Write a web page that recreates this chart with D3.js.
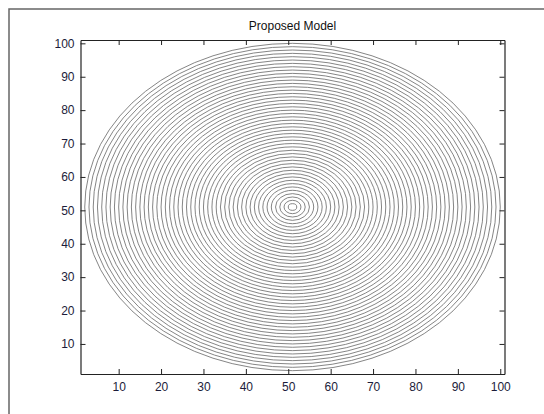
<!DOCTYPE html>
<html>
<head>
<meta charset="utf-8">
<script src="https://d3js.org/d3.v7.min.js"></script>
<style>
  body { margin: 0; padding: 0; background: #fff; }
  svg { display: block; font-family: "Liberation Sans", Arial, sans-serif; }
  .axis path { stroke: #222; }
  .axis line { stroke: #222; }
  .axis text { fill: #1c1c3a; font-size: 12px; }
  .ring { fill: none; stroke: #666; stroke-width: 0.8; }
</style>
</head>
<body>
<div id="chart"></div>
<script>
  var title = "Proposed Model";
  var xTicks = [10, 20, 30, 40, 50, 60, 70, 80, 90, 100];
  var yTicks = [10, 20, 30, 40, 50, 60, 70, 80, 90, 100];
  var center = [51, 51];
  // contour levels (distance from the centre)
  var levels = [1, 2, 3, 4, 5, 6, 7, 8, 9, 10, 11, 12, 13, 14, 15, 16, 17, 18, 19, 20,
                21, 22, 23, 24, 25, 26, 27, 28, 29, 30, 31, 32, 33, 34, 35, 36, 37, 38, 39, 40,
                41, 42, 43, 44, 45, 46, 47, 48, 49];

  var W = 544, H = 414;
  var margin = {top: 40, right: 40, bottom: 40, left: 80.5},
      width = 504.5 - margin.left,
      height = 374 - margin.top;

  var x = d3.scaleLinear().domain([1, 101]).range([0, width]);
  var y = d3.scaleLinear().domain([1, 101]).range([height, 0]);

  var svg = d3.select("#chart").append("svg")
      .attr("width", W)
      .attr("height", H);

  // figure frame
  svg.append("rect")
      .attr("x", 9).attr("y", 9)
      .attr("width", W).attr("height", H)
      .attr("fill", "none")
      .attr("stroke", "#666")
      .attr("stroke-width", 1.5);

  var g = svg.append("g")
      .attr("transform", "translate(" + margin.left + "," + margin.top + ")");

  g.append("clipPath").attr("id", "clip")
    .append("rect").attr("width", width).attr("height", height);

  g.append("g").attr("clip-path", "url(#clip)")
    .selectAll(".ring")
    .data(levels)
    .enter().append("ellipse")
      .attr("class", "ring")
      .attr("cx", x(center[0]))
      .attr("cy", y(center[1]))
      .attr("rx", function(d) { return x(center[0] + d) - x(center[0]); })
      .attr("ry", function(d) { return y(center[1]) - y(center[1] + d); });

  // axes, ticks pointing inward on all four sides
  g.append("g").attr("class", "x axis")
      .attr("transform", "translate(0," + height + ")")
      .call(d3.axisBottom(x).tickValues(xTicks).tickSize(-5).tickPadding(8).tickSizeOuter(0));
  g.append("g").attr("class", "x axis")
      .call(d3.axisTop(x).tickValues(xTicks).tickSize(-5).tickFormat("").tickSizeOuter(0));
  g.append("g").attr("class", "y axis")
      .call(d3.axisLeft(y).tickValues(yTicks).tickSize(-5).tickPadding(6).tickSizeOuter(0));
  g.append("g").attr("class", "y axis")
      .attr("transform", "translate(" + width + ",0)")
      .call(d3.axisRight(y).tickValues(yTicks).tickSize(-5).tickFormat("").tickSizeOuter(0));

  g.selectAll(".axis path").attr("stroke-width", 1.2);

  svg.append("text")
      .attr("x", margin.left + width / 2)
      .attr("y", 30)
      .attr("text-anchor", "middle")
      .attr("font-size", "12px")
      .attr("fill", "#111")
      .text(title);
</script>
</body>
</html>
